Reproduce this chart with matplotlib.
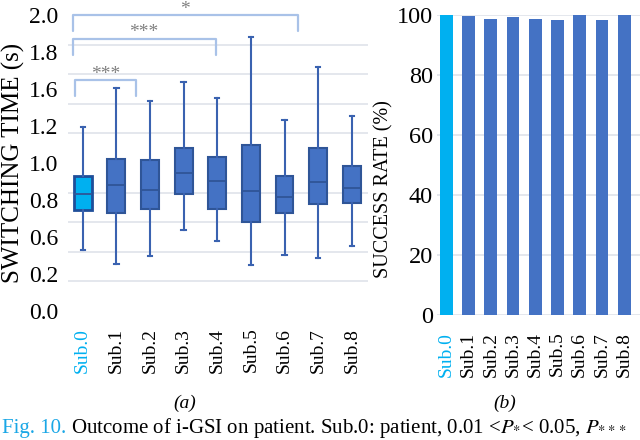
import numpy as np
import matplotlib.pyplot as plt

plt.rcParams['font.family'] = ['Liberation Serif', 'DejaVu Serif']
plt.rcParams['mathtext.fontset'] = 'stix'

subjects = ['Sub.0', 'Sub.1', 'Sub.2', 'Sub.3', 'Sub.4', 'Sub.5', 'Sub.6', 'Sub.7', 'Sub.8']

# switching time (s) per subject
whis_lo = [0.41, 0.32, 0.37, 0.55, 0.47, 0.31, 0.38, 0.36, 0.44]
q1 = [0.68, 0.66, 0.69, 0.79, 0.69, 0.60, 0.66, 0.72, 0.73]
med = [0.79, 0.85, 0.82, 0.93, 0.88, 0.81, 0.77, 0.87, 0.83]
q3 = [0.91, 1.03, 1.02, 1.10, 1.04, 1.12, 0.91, 1.10, 0.98]
whis_hi = [1.24, 1.51, 1.42, 1.55, 1.44, 1.85, 1.29, 1.65, 1.32]

# success rate (%)
success = [100, 99.7, 98.8, 99.2, 98.8, 98.3, 100, 98.4, 100]

# y labels as printed on the left axis
time_labels = ['0.0', '0.2', '0.6', '0.8', '1.0', '1.2', '1.6', '1.8', '2.0']
rate_ticks = [0, 20, 40, 60, 80, 100]

# significance brackets
br_start = [-0.23, -0.30, -0.30]
br_end = [1.58, 3.95, 6.39]
br_top = [1.56, 1.84, 2.00]
br_text = ['***', '***', '*']

patient_col = '#00b0f0'
sub_col = '#4472c4'
edge_col = '#2f5597'
grid_col = '#dfe3ea'

fig = plt.figure(figsize=(6.4, 4.4), dpi=100)

# ---- (a) switching time
ax1 = fig.add_axes([68 / 640, 1 - 311 / 440, 300 / 640, 296 / 440])
stats = []
for i in range(len(subjects)):
    stats.append(dict(med=med[i], q1=q1[i], q3=q3[i],
                      whislo=whis_lo[i], whishi=whis_hi[i], fliers=[]))
bp = ax1.bxp(stats, positions=range(len(subjects)), widths=0.53,
             patch_artist=True, showfliers=False, capwidths=0.13,
             boxprops=dict(facecolor=sub_col, edgecolor=edge_col, linewidth=1.5),
             medianprops=dict(color=edge_col, linewidth=1.3),
             whiskerprops=dict(color='#3a62b0', linewidth=1.5),
             capprops=dict(color='#3a62b0', linewidth=1.5))
bp['boxes'][0].set_facecolor(patient_col)
bp['boxes'][0].set_edgecolor('#1f4e99')
bp['boxes'][0].set_linewidth(2)

ax1.set_xlim(-0.437, 8.48)
ax1.set_ylim(0, 2.0)
ax1.set_yticks(np.linspace(0, 2.0, len(time_labels)))
ax1.set_yticklabels(time_labels, fontsize=17)
ax1.set_yticks(np.arange(0, 2.01, 0.2), minor=True)
ax1.grid(True, which='minor', axis='y', color=grid_col, linewidth=1.2)
ax1.set_axisbelow(True)
ax1.tick_params(axis='y', which='both', length=0, pad=7)
ax1.set_xticks(range(len(subjects)))
ax1.set_xticklabels(subjects, rotation=90, fontsize=14)
ax1.tick_params(axis='x', length=0, pad=12)
ax1.get_xticklabels()[0].set_color(patient_col)
for s in ax1.spines.values():
    s.set_visible(False)

for x0, x1, top, lab in zip(br_start, br_end, br_top, br_text):
    ax1.plot([x0, x0, x1, x1], [top - 0.11, top, top, top - 0.11],
             color='#a9c2e8', linewidth=1.6, solid_joinstyle='round',
             solid_capstyle='round', clip_on=False)
    ax1.text((x0 + x1) / 2, top + 0.01, lab, ha='center', va='baseline',
             fontsize=14, color='#808080', clip_on=False)

fig.text(13 / 640, 1 - 163 / 440, 'SWITCHING TIME (s)', rotation=90,
         ha='center', va='center', fontsize=18)

# ---- (b) success rate
ax2 = fig.add_axes([437 / 640, 1 - 315 / 440, 203 / 640, 300 / 440])
cols = [patient_col] + [sub_col] * (len(subjects) - 1)
ax2.bar(range(len(subjects)), success, width=0.58, color=cols)
ax2.set_xlim(-0.42, 8.71)
ax2.set_ylim(0, 100)
ax2.set_yticks(rate_ticks)
ax2.set_yticklabels([str(t) for t in rate_ticks], fontsize=17.5)
ax2.grid(True, axis='y', color=grid_col, linewidth=1.2)
ax2.set_axisbelow(True)
ax2.tick_params(axis='y', length=0, pad=3)
ax2.set_xticks(range(len(subjects)))
ax2.set_xticklabels(subjects, rotation=90, fontsize=14)
ax2.tick_params(axis='x', length=0, pad=12)
ax2.get_xticklabels()[0].set_color(patient_col)
for s in ax2.spines.values():
    s.set_visible(False)

fig.text(384 / 640, 1 - 189 / 440, 'SUCCESS RATE (%)', rotation=90,
         ha='center', va='center', fontsize=14.5)

# ---- panel tags and caption
fig.text(185 / 640, 1 - 403 / 440, '(a)', style='italic', ha='center',
         va='center', fontsize=14)
fig.text(505 / 640, 1 - 403 / 440, '(b)', style='italic', ha='center',
         va='center', fontsize=14)
fig.text(2 / 640, 1 - 433 / 440, 'Fig. 10.', color='#1aa7e6', fontsize=15,
         va='baseline')
fig.text(71 / 640, 1 - 433 / 440,
         r'Outcome of i-GSI on patient. Sub.0: patient, 0.01 <$P_{*}$< 0.05, $P_{***}$',
         fontsize=15, va='baseline')

fig.savefig('out.png', dpi=100)
